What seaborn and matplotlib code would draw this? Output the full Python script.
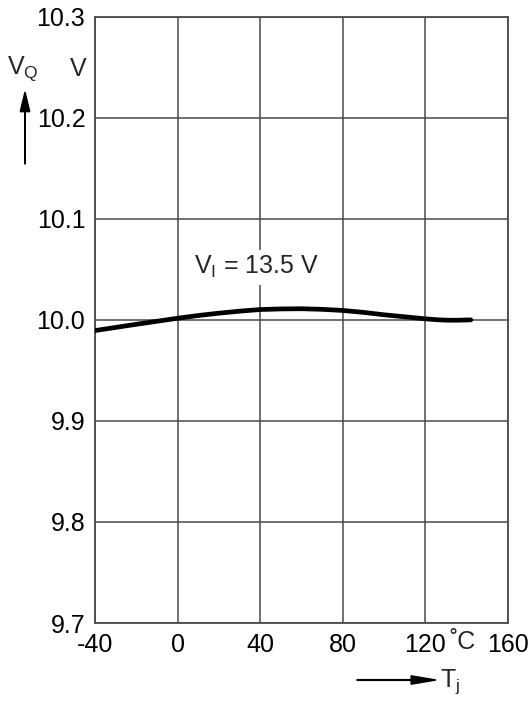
import matplotlib
matplotlib.use("Agg")
import matplotlib.pyplot as plt
import seaborn as sns
import pandas as pd

# Output voltage vs. junction temperature
temp_c = [-40, -30, -20, -10, 0, 10, 20, 30, 40, 50, 60, 70, 80, 90, 100, 110, 120, 125, 130, 135, 142]
v_out = [9.9894, 9.9925, 9.9956, 9.9986, 10.0016, 10.0043, 10.0066, 10.0086, 10.0102, 10.0108,
         10.0110, 10.0104, 10.0093, 10.0074, 10.0050, 10.0030, 10.0010, 10.0002, 9.9997, 9.9996, 10.0000]

x_ticks = [-40, 0, 40, 80, 120, 160]
x_tick_labels = ["-40", "0", "40", "80", "120", "160"]
y_ticks = [9.7, 9.8, 9.9, 10.0, 10.1, 10.2, 10.3]
y_tick_labels = ["9.7", "9.8", "9.9", "10.0", "10.1", "10.2", "10.3"]

df = pd.DataFrame({"Tj": temp_c, "VQ": v_out})

sns.set_theme(style="white")
plt.rcParams["font.family"] = ["Liberation Sans", "DejaVu Sans"]

FS = 18

fig = plt.figure(figsize=(5.29, 7.02), dpi=100)
ax = fig.add_axes([95 / 529, 1 - 623 / 702, (508 - 95) / 529, (623 - 16.7) / 702])

grid_col = "#4a4a4a"
sns.lineplot(data=df, x="Tj", y="VQ", ax=ax, color="black", linewidth=3.4, zorder=3)

ax.set_xlim(-40, 160)
ax.set_ylim(9.7, 10.3)
ax.set_xticks(x_ticks)
ax.set_xticklabels(x_tick_labels)
ax.set_yticks(y_ticks)
ax.set_yticklabels(y_tick_labels)
ax.tick_params(axis="both", length=0, labelsize=FS, colors="black", pad=7)
ax.grid(True, color=grid_col, linewidth=1.1)
for s in ax.spines.values():
    s.set_color(grid_col)
    s.set_linewidth(1.3)
ax.set_xlabel("")
ax.set_ylabel("")

# curve annotation, on a white patch that hides the grid behind it
ax.text(8, 10.052, r"V$_\mathregular{I}$ = 13.5 V", fontsize=FS, ha="left", va="center",
        zorder=4, bbox=dict(facecolor="white", edgecolor="none", pad=3))

# unit labels
fig.text(463 / 529, 1 - 642 / 702, "˚C", fontsize=FS, ha="center", va="center")
fig.text(78 / 529, 1 - 69 / 702, "V", fontsize=FS, ha="center", va="center")

# axis names with arrows
fig.text(7 / 529, 1 - 69 / 702, r"V$_\mathregular{Q}$", fontsize=FS, ha="left", va="center")
fig.add_artist(matplotlib.patches.FancyArrow(
    25 / 529, 1 - 164 / 702, 0, 72 / 702, width=0.0009, head_width=0.018, head_length=0.028,
    length_includes_head=True, color="black", transform=fig.transFigure))
fig.text(440 / 529, 1 - 682 / 702, r"T$_\mathregular{j}$", fontsize=FS, ha="left", va="center")
fig.add_artist(matplotlib.patches.FancyArrow(
    357 / 529, 1 - 680 / 702, 79 / 529, 0, width=0.0011, head_width=0.012, head_length=0.047,
    length_includes_head=True, color="black", transform=fig.transFigure))

fig.savefig("out.png", dpi=100)
